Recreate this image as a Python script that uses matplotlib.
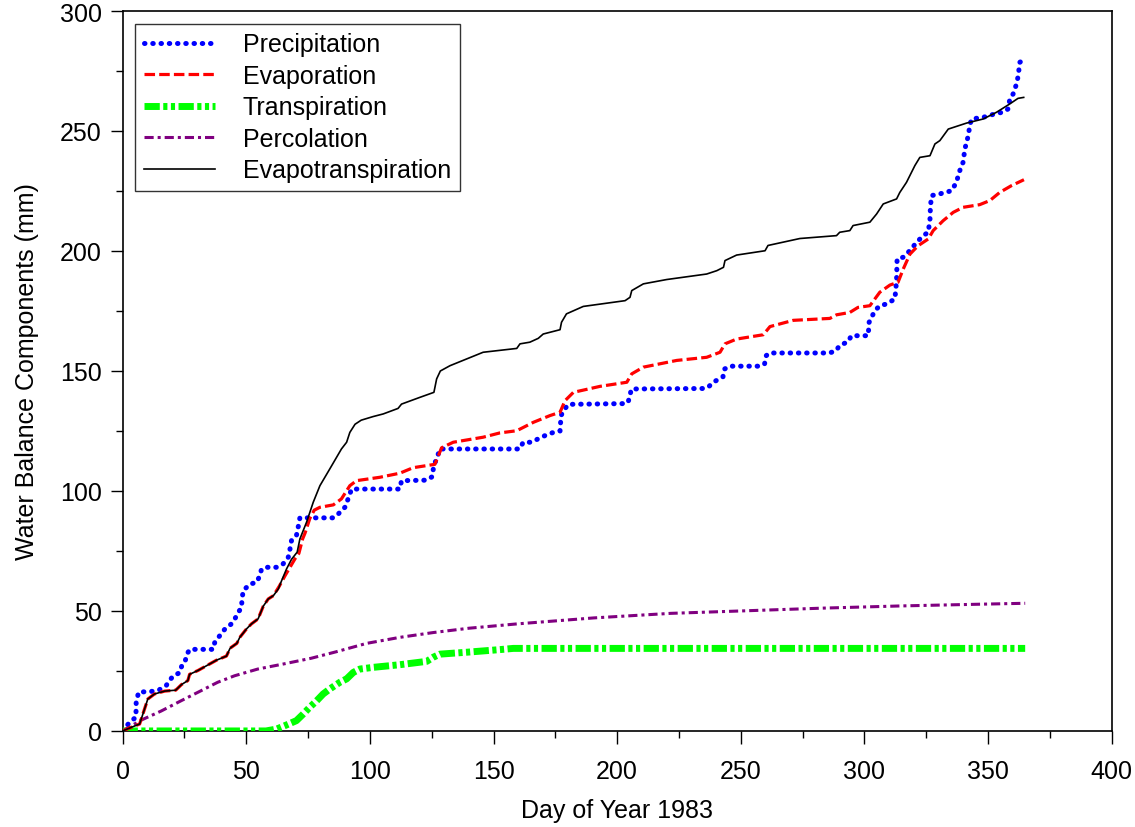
import numpy as np
import matplotlib
matplotlib.use("Agg")
import matplotlib.pyplot as plt
from matplotlib.ticker import MultipleLocator

plt.rcParams['font.family'] = ['Liberation Sans', 'DejaVu Sans']

# cumulative water balance components
precip_day = [0, 3, 5.4, 5.5, 6.5, 11, 14.3, 17.7, 19, 20.5, 23, 24, 25.2, 26, 27.2, 36.6,
              37.3, 39.3, 41.4, 44, 45.4, 46.8, 48.1, 48.3, 48.8, 51.5, 54.2, 55.5, 56.2,
              58.2, 62.3, 64.9, 67, 67.7, 68.3, 70.3, 71, 71.7, 85.2, 87.2, 89.9, 91.2,
              92.6, 112.1, 112.8, 122.9, 125.3, 125.8, 127, 128.3, 160.6, 162, 165.4, 168,
              171.5, 174.2, 176.9, 177.1, 177.3, 178.2, 180.3, 202.4, 204.4, 205.1, 205.8,
              234.7, 236.7, 238.7, 242.8, 243.4, 245.5, 257.6, 259.6, 260.3, 261.6, 285.9,
              288.6, 289.9, 293.4, 294.7, 301.5, 301.9, 304.2, 306.2, 308.9, 312.3, 312.7,
              313, 313.1, 313.2, 315.7, 318.4, 321.1, 323.8, 325.8, 326.5, 326.7, 327.2,
              330.5, 335.2, 337.2, 338.3, 339.9, 340.6, 342, 342.6, 343.3, 348, 351.4,
              353.4, 356.1, 358.1, 358.8, 360.1, 361.5, 362.2, 362.8, 364]
precip_mm = [0, 3.8, 5.7, 12, 16.2, 16.4, 16.8, 19, 21, 23, 24.2, 27.3, 28.6, 32, 34, 34,
             37, 39.7, 42.5, 44.6, 46.7, 49.4, 51.5, 55, 58.5, 61.2, 61.9, 64.7, 67.5,
             68.2, 68.2, 69.6, 72.4, 75.8, 79.3, 81.4, 84.9, 88.8, 88.8, 90.4, 93.2, 96.7,
             100.8, 100.8, 104.3, 104.5, 106, 110.6, 113.3, 117.5, 117.5, 120.3, 120.3, 121.7,
             123.4, 124.4, 125, 128.1, 131.3, 133.4, 136.1, 136.4, 136.8, 139.7, 142.5,
             142.7, 143.1, 145.2, 147.6, 150.8, 152, 152, 152.9, 156.4, 157.5, 157.5,
             158.5, 160.6, 162.2, 164.7, 164.7, 170.3, 175.1, 177.2, 177.9, 180, 184.2,
             188.3, 192.5, 196.7, 197.4, 200.2, 203.6, 206.4, 207.8, 213.3, 218.9, 223.1,
             223.8, 225.1, 228.6, 232.8, 237, 242.5, 248.1, 252.3, 255, 255.7, 256.7,
             257.4, 257.8, 259.2, 263.4, 265.4, 269.6, 273.1, 278.6, 279.5]

evap_day = [0, 3.5, 6.9, 8.2, 10.2, 12.9, 17, 21.5, 23.8, 26.4, 27.1, 30.5, 34.5, 38, 42,
            43.5, 46.2, 47.4, 50.1, 52.1, 54.8, 56.9, 58.9, 61, 63.3, 65.7, 67.7, 69.7,
            71.3, 72.8, 73.8, 75.7, 77.5, 79.8, 85.2, 88.5, 91.9, 94.6, 104, 112.1, 117.5,
            126.3, 129, 133.7, 145.8, 152.6, 159.4, 166.1, 172.8, 176.9, 178.9, 182.3,
            193.1, 203.9, 205.9, 210.6, 224.1, 236.2, 241.6, 243.6, 248.3, 259.1, 261.8,
            271.2, 286, 288.7, 294.1, 297.4, 302.2, 306.2, 310.3, 313.6, 315.7, 318.4,
            321.7, 325.8, 327.8, 331.8, 335.9, 339.9, 346.6, 350.7, 354.7, 359.4, 364.5]
evap_mm = [0, 1.5, 2.9, 7, 13.3, 15.4, 16.6, 17, 19.3, 21, 23.6, 25.2, 27.5, 29.5, 31.2,
           34.5, 36.5, 39, 42.5, 44.6, 46.7, 52, 55, 56.4, 60.2, 64.7, 68.2, 71.7,
           74, 80, 82.5, 88.5, 92, 93.2, 94.2, 96.7, 102.2, 104.3, 105.7, 107.4, 109.7,
           111.1, 118, 120.3, 122.4, 124.2, 125.1, 128.6, 131.4, 132.8, 137.6, 141.1,
           143.6, 145.3, 148.8, 151.6, 154.4, 155.7, 157.8, 161.3, 163.3, 165.1, 168.5,
           171.1, 171.9, 173.4, 174.4, 176.5, 177.2, 182.8, 185.8, 187, 192.5, 198.7,
           202.2, 205, 208.5, 212.6, 216.1, 218.2, 219.3, 221, 224.4, 227.2, 229.7]

transp_day = [0, 58, 62.3, 66.3, 70.3, 73, 75.7, 78.5, 81.1, 83.8, 87.9, 90.6, 93.3, 96,
              101.3, 112.1, 123, 125.6, 128.3, 139.1, 152.6, 158, 365]
transp_mm = [0, 0, 0.8, 2.5, 4.3, 7, 9.9, 12.6, 15.4, 17.5, 20.3, 21.7, 24.4, 25.8,
             26.5, 27.6, 29, 30.7, 32, 32.8, 33.9, 34.4, 34.4]

perc_day = [0, 7.5, 15.6, 23.7, 31.8, 38.5, 45.3, 54.7, 65.5, 76.3, 86.4, 98.7, 112.1,
            125.6, 140, 159.4, 190.5, 221.6, 252.7, 283.8, 314.9, 346, 365]
perc_mm = [0, 4.5, 8.3, 12.6, 16.8, 20.3, 23, 25.8, 28, 30.3, 33, 36.5, 39, 41, 42.8,
           44.6, 47.1, 49, 50.1, 51.2, 52.1, 52.8, 53.2]

et_day = [0, 3.5, 6.9, 8.2, 10.2, 12.9, 17, 21.5, 23.8, 26.4, 27.1, 30.5, 34.5, 38, 42,
          43.5, 46.2, 47.4, 50.1, 52.1, 54.8, 56.9, 58.9, 61, 63, 64.3, 66.3, 68.3, 70.6,
          71.7, 74.4, 77.1, 79.8, 83.8, 88.5, 90.6, 91.9, 94, 96.5, 101.3, 105.4, 111.4,
          112.8, 120.2, 125.9, 127, 128.5, 132.4, 145.8, 159.4, 160.7, 164.7, 168.1,
          170.1, 176.9, 177.5, 179.5, 186.3, 203.2, 205.2, 205.9, 210.6, 220, 236.2,
          240.3, 243, 243.6, 248.3, 259.8, 261, 273.9, 288.7, 290, 294.1, 295.4, 302.2,
          304.9, 307.6, 313, 314.3, 317, 320.4, 322.4, 326.5, 328.5, 330.5, 333.9, 341.3,
          348, 353.4, 358.8, 362.1, 364.4]
et_mm = [0, 1.5, 2.9, 7, 13.3, 15.4, 16.6, 17, 19.3, 21, 23.6, 25.2, 27.5, 29.5, 31.2,
         34.5, 36.5, 39, 42.5, 44.6, 46.7, 52, 55, 56.4, 59.2, 62.6, 67.5, 71.5, 74.5,
         80, 87, 95.3, 102.2, 109.2, 117.5, 120.3, 124.4, 127.8, 129.5, 131, 132.1, 134.4,
         136.2, 139, 141.1, 146.7, 150, 152.2, 157.8, 159.4, 161.3, 162, 163.6,
         165.4, 167.2, 170.3, 173.8, 176.9, 179.3, 180.7, 183.5, 186.3, 188.1, 190.4,
         191.8, 193.2, 196, 198.3, 200.1, 202.3, 205.2, 206.4, 207.8, 208.5, 210.6, 212,
         215.4, 219.6, 221.7, 224.4, 228.6, 235.6, 239, 239.7, 244.6, 246, 250.8, 253.3,
         255, 257.8, 261.3, 263.6, 264]


fig = plt.figure(figsize=(11.35, 8.28), dpi=100)
ax = fig.add_axes([0.108, 0.116, 0.8715, 0.8695])

ax.plot(precip_day, precip_mm, color='#0000ff', lw=3.6, linestyle=(0, (0.1, 1.55)),
        dash_capstyle='round', label='Precipitation', zorder=3)
ax.plot(evap_day, evap_mm, color='#ff0000', lw=2.3, linestyle=(0, (3.3, 1.3)),
        label='Evaporation', zorder=4)
ax.plot(transp_day, transp_mm, color='#00ff00', lw=5, linestyle=(0, (2.2, 0.5, 0.6, 0.5, 0.6, 0.5)),
        label='Transpiration', zorder=3)
ax.plot(perc_day, perc_mm, color='#800080', lw=2.2, linestyle=(0, (3, 1.3, 1, 1.3)),
        label='Percolation', zorder=3)
ax.plot(et_day, et_mm, color='black', lw=1.2, label='Evapotranspiration', zorder=5)

ax.set_xlim(0, 400)
ax.set_ylim(0, 300)
ax.xaxis.set_major_locator(MultipleLocator(50))
ax.xaxis.set_minor_locator(MultipleLocator(25))
ax.yaxis.set_major_locator(MultipleLocator(50))
ax.yaxis.set_minor_locator(MultipleLocator(25))
ax.tick_params(which='major', direction='out', length=9, width=1, labelsize=18)
ax.tick_params(which='minor', direction='out', length=5, width=1)
ax.tick_params(axis='x', which='major', pad=11)
ax.tick_params(axis='y', which='major', pad=6)
ax.tick_params(top=False, right=False)
for sp in ax.spines.values():
    sp.set_linewidth(1.2)

ax.set_xlabel('Day of Year 1983', fontsize=18, labelpad=11)
ax.set_ylabel('Water Balance Components (mm)', fontsize=18, labelpad=15)

leg = ax.legend(loc='upper left', fontsize=18, frameon=True, fancybox=False,
                handlelength=2.85, handletextpad=1.1, labelspacing=0.3,
                borderaxespad=0.5, borderpad=0.35)
leg.get_frame().set_edgecolor('black')
leg.get_frame().set_linewidth(1)

fig.savefig('out.png', dpi=100)
